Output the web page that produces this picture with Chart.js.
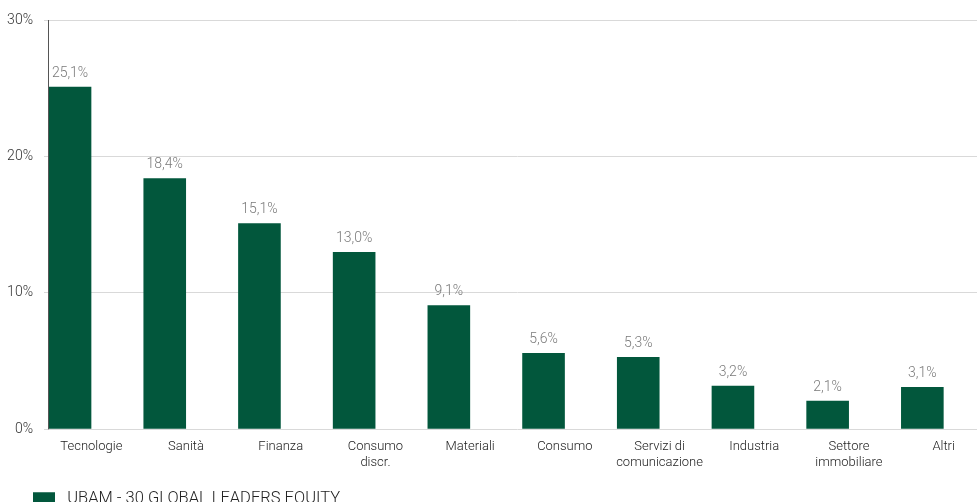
<!DOCTYPE html>
<html><head><meta charset="utf-8">
<script src="https://cdn.jsdelivr.net/npm/chart.js@4/dist/chart.umd.min.js"></script>
<style>
html,body{margin:0;padding:0;background:#fff;overflow:hidden;width:977px;height:502px;}
#wrap{position:absolute;left:0;top:0;width:991px;height:517px;}
</style></head>
<body><div id="wrap"><canvas id="c"></canvas></div>
<script>
const categories = ["Tecnologie","Sanità","Finanza",["Consumo","discr."],"Materiali","Consumo",["Servizi di","comunicazione"],"Industria",["Settore","immobiliare"],"Altri"];
const seriesName = "UBAM - 30 GLOBAL LEADERS EQUITY";
const values = [25.1,18.4,15.1,13.0,9.1,5.6,5.3,3.2,2.1,3.1];
const yTicks = [0,10,20,30];
const FONT = "Roboto,'Liberation Sans',Arial,sans-serif";
const green = '#02573c';

const labelPlugin = {
  id:'valLabels',
  afterLayout(chart){
    const lg = chart.legend;
    if (lg) { lg.left = 23; }
  },
  afterDatasetsDraw(chart){
    const ctx = chart.ctx;
    const meta = chart.getDatasetMeta(0);
    ctx.save();
    ctx.font = "300 14px " + FONT;
    ctx.fillStyle = '#7a7a7a';
    ctx.textAlign = 'center';
    ctx.textBaseline = 'alphabetic';
    meta.data.forEach((bar,i)=>{
      const txt = values[i].toFixed(1).replace('.',',') + '%';
      ctx.fillText(txt, bar.x, bar.y - 10);
    });
    const b0 = meta.data[0];
    const x = Math.round(b0.x - b0.width/2) - 0.5;
    ctx.strokeStyle = '#555';
    ctx.lineWidth = 1;
    ctx.beginPath();
    ctx.moveTo(x, chart.chartArea.top);
    ctx.lineTo(x, chart.chartArea.bottom);
    ctx.stroke();
    ctx.restore();
  }
};

new Chart(document.getElementById('c'), {
  type:'bar',
  data:{
    labels: categories,
    datasets:[
      {label: seriesName, data: values, backgroundColor: green, borderWidth:0, categoryPercentage:0.9, barPercentage:1},
      {label: '_spacer', data: values.map(()=>null), backgroundColor:'rgba(0,0,0,0)', categoryPercentage:0.9, barPercentage:1}
    ]
  },
  options:{
    responsive:true, maintainAspectRatio:false, animation:false,
    layout:{padding:{top:20,left:0,right:0,bottom:0}},
    plugins:{
      legend:{
        position:'bottom', align:'start',
        labels:{
          generateLabels(chart){
            return Chart.defaults.plugins.legend.labels.generateLabels(chart)
              .filter(it => it.text === seriesName)
              .map(it => Object.assign(it, {text: ' ' + it.text}));
          },
          boxWidth:22, boxHeight:13, padding:10,
          color:'#222', font:{family:FONT, size:16.5, weight:'300'}
        }
      },
      tooltip:{enabled:false}
    },
    scales:{
      x:{
        grid:{display:false, drawTicks:false},
        border:{display:false},
        ticks:{color:'#222', font:{family:FONT, size:13, weight:'300'}, padding:10, maxRotation:0, autoSkip:false}
      },
      y:{
        min:0, max:30,
        afterFit(s){ s.width = 44; },
        afterBuildTicks(s){ s.ticks = yTicks.map(v=>({value:v})); },
        grid:{color:'#d9d9d9', drawTicks:false},
        border:{display:false},
        ticks:{color:'#333', font:{family:FONT, size:14, weight:'300'}, padding:11, callback:v=>v+'%'}
      }
    }
  },
  plugins:[labelPlugin]
});
</script></body></html>
